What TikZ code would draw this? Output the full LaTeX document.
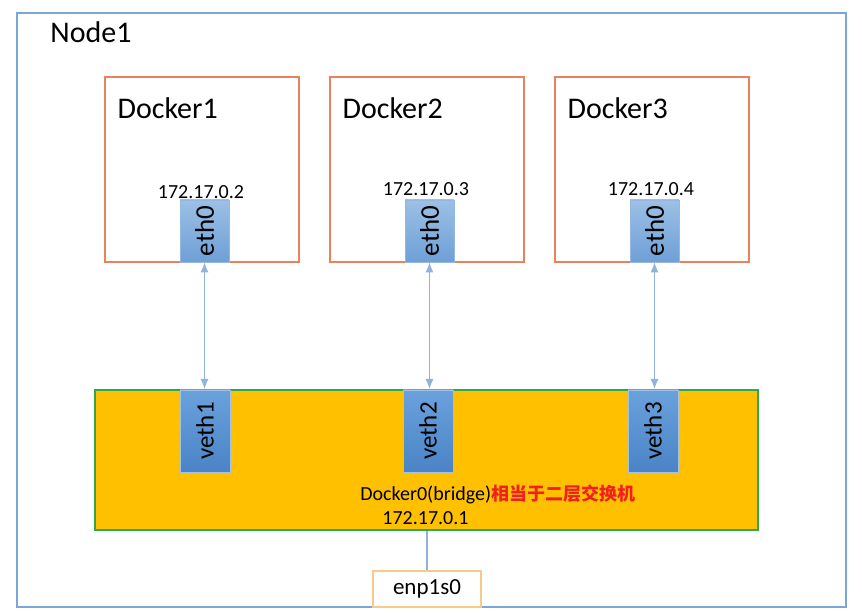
\documentclass[tikz,border=0pt]{standalone}
\usepackage{fontspec}
\setmainfont{Carlito}
\newfontfamily\cjk{Noto Sans CJK SC}
\usetikzlibrary{arrows.meta,positioning}
\definecolor{nodeblue}{HTML}{7CA6D8}
\definecolor{dockorange}{HTML}{E9825A}
\definecolor{bridgeyellow}{HTML}{FFC000}
\definecolor{bridgegreen}{HTML}{2EA84A}
\definecolor{ethtop}{HTML}{9CC0E6}
\definecolor{ethbot}{HTML}{6E9FD6}
\definecolor{vethtop}{HTML}{6AA1DD}
\definecolor{vethbot}{HTML}{4A84C6}
\definecolor{linkblue}{HTML}{8FB3DD}
\definecolor{enporange}{HTML}{F7C98A}
\definecolor{notered}{HTML}{F02020}
\tikzset{
  dockerbox/.style={draw=dockorange,line width=0.8pt,minimum width=97pt,minimum height=92.5pt,inner sep=0pt},
  ethbox/.style={draw=nodeblue!80,top color=ethtop,bottom color=ethbot,minimum width=31pt,minimum height=24.5pt,inner sep=0pt,rotate=90,font=\fontsize{13.5}{15}\selectfont},
  vethbox/.style={draw=nodeblue!70,top color=vethtop,bottom color=vethbot,minimum width=41pt,minimum height=25pt,inner sep=0pt,rotate=90,font=\fontsize{12.5}{15}\selectfont},
  iplabel/.style={font=\fontsize{10}{12}\selectfont,inner sep=0pt},
  link/.style={linkblue,line width=0.6pt},
}
\begin{document}
\begin{tikzpicture}[x=0.5pt,y=-0.5pt]
\useasboundingbox (0,0) rectangle (862,614);
% host
\draw[nodeblue,line width=1pt] (17,13) rectangle (846,607);
\node[anchor=west,font=\fontsize{15}{18}\selectfont,inner sep=0pt] (node1) at (50,32) {Node1};
% containers
\node[dockerbox] (d1) at (202,169.5) {};
\node[dockerbox] (d2) at (427,169.5) {};
\node[dockerbox] (d3) at (652,169.5) {};
\foreach \i in {1,2,3}
  \node[anchor=west,font=\fontsize{15}{18}\selectfont,inner sep=0pt] (dl\i) at ([xshift=6.5pt,yshift=-16pt]d\i.north west) {Docker\i};
\node[ethbox] (e1) at (204.5,231) {eth0};
\node[ethbox] (e2) at (429.5,231) {eth0};
\node[ethbox] (e3) at (654.5,231) {eth0};
\node[iplabel] (ip1) at (201,192) {172.17.0.2};
\node[iplabel] (ip2) at (426,189) {172.17.0.3};
\node[iplabel] (ip3) at (651,189) {172.17.0.4};
% bridge
\node[draw=bridgegreen,fill=bridgeyellow,line width=1pt,minimum width=331.5pt,minimum height=70pt,inner sep=0pt] (br) at (426.5,460) {};
\node[vethbox] (v1) at (205,431) {veth1};
\node[vethbox] (v2) at (428,431) {veth2};
\node[vethbox] (v3) at (653,431) {veth3};
\node[iplabel,anchor=west] (brname) at (360,494) {Docker0(bridge){\cjk\bfseries\fontsize{9}{11}\selectfont\color{notered}相当于二层交换机}};
\node[iplabel] (brip) at (425.5,518) {172.17.0.1};
% uplink
\node[draw=enporange,line width=0.8pt,fill=white,minimum width=54pt,minimum height=18pt,inner sep=0pt,font=\fontsize{11.5}{13}\selectfont] (enp) at (427,589) {enp1s0};
\draw[link] (br.south -| enp.north) -- (enp.north);
% links
\foreach \i in {1,2,3}
  \draw[link,{Latex[length=5pt,width=4pt]}-{Latex[length=5pt,width=4pt]}] (e\i.west) -- (e\i.west |- br.north);
\end{tikzpicture}
\end{document}
